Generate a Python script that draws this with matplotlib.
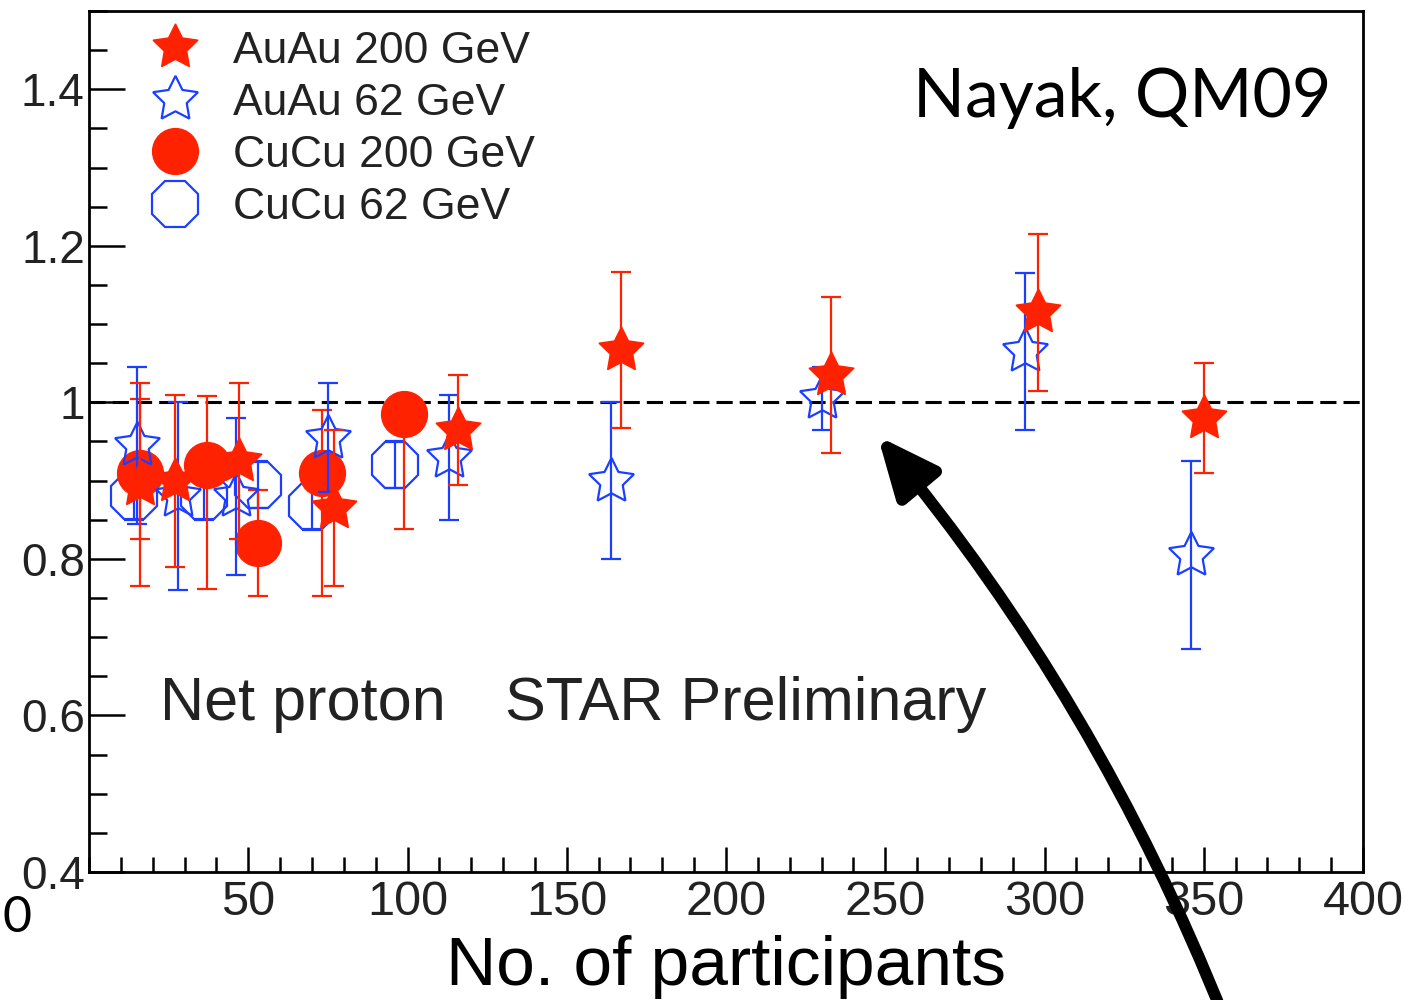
import matplotlib.pyplot as plt
from matplotlib.lines import Line2D
from matplotlib.patches import FancyArrowPatch
from matplotlib.ticker import MultipleLocator, FixedLocator, FuncFormatter

# AuAu 200 GeV (filled stars)
au200_x = [350, 298, 233, 167, 116, 77, 47, 27, 16]
au200_y = [0.98, 1.115, 1.035, 1.067, 0.965, 0.865, 0.925, 0.90, 0.895]
au200_lo = [0.07, 0.10, 0.10, 0.10, 0.07, 0.10, 0.10, 0.11, 0.13]
au200_hi = [0.07, 0.10, 0.10, 0.10, 0.07, 0.10, 0.10, 0.11, 0.13]

# AuAu 62 GeV (open stars)
au62_x = [346, 294, 230, 164, 113, 75, 46, 28, 15]
au62_y = [0.805, 1.065, 1.005, 0.90, 0.93, 0.955, 0.88, 0.88, 0.945]
au62_err = [0.12, 0.10, 0.04, 0.10, 0.08, 0.07, 0.10, 0.12, 0.10]

# CuCu 200 GeV (filled circles)
cu200_x = [99, 73, 53, 37, 16]
cu200_y = [0.985, 0.91, 0.82, 0.92, 0.91]
cu200_lo = [0.147, 0.158, 0.068, 0.158, 0.085]
cu200_hi = [0.02, 0.08, 0.068, 0.088, 0.094]

# CuCu 62 GeV (open circles)
cu62_x = [96, 70, 53, 36, 14]
cu62_y = [0.92, 0.867, 0.895, 0.88, 0.88]
cu62_err = [0.03, 0.03, 0.03, 0.03, 0.03]

labels = ['AuAu 200 GeV', 'AuAu 62 GeV', 'CuCu 200 GeV', 'CuCu 62 GeV']

red = '#ff2200'
blue = '#1c3fff'
txt = '#222222'
star = (5, 1, 0)

W, H = 1405, 1000
fig = plt.figure(figsize=(W / 100, H / 100), dpi=100)
ax = fig.add_axes([89 / W, 1 - 872 / H, (1363 - 89) / W, (872 - 11) / H])

ax.axhline(1.0, color='black', lw=2.2, dashes=(5.3, 2.3), zorder=1)

eb = dict(elinewidth=1.6, capsize=7, capthick=1.6, linestyle='none')
ax.errorbar(cu62_x, cu62_y, yerr=cu62_err, fmt='8', ms=36, mfc='none',
            mec=blue, mew=1.6, ecolor=blue, zorder=2, **eb)
ax.errorbar(cu200_x, cu200_y, yerr=[cu200_lo, cu200_hi], fmt='o', ms=33,
            mfc=red, mec=red, ecolor=red, zorder=3, **eb)
ax.errorbar(au62_x, au62_y, yerr=au62_err, fmt='none', ecolor=blue, zorder=4, **eb)
ax.plot(au62_x, au62_y, linestyle='none', marker=star, ms=34, mfc='none',
        mec=blue, mew=1.6, zorder=4)
ax.errorbar(au200_x, au200_y, yerr=[au200_lo, au200_hi], fmt='none', ecolor=red,
            zorder=5, **eb)
ax.plot(au200_x, au200_y, linestyle='none', marker=star, ms=34, mfc=red,
        mec=red, zorder=5)

ax.set_xlim(0, 400)
ax.set_ylim(0.4, 1.5)
ax.xaxis.set_major_locator(FixedLocator([50, 100, 150, 200, 250, 300, 350, 400]))
ax.xaxis.set_minor_locator(MultipleLocator(10))
ax.yaxis.set_major_locator(MultipleLocator(0.2))
ax.yaxis.set_minor_locator(MultipleLocator(0.05))
ax.yaxis.set_major_formatter(FuncFormatter(lambda v, p: '%g' % round(v, 2)))

for s in ax.spines.values():
    s.set_linewidth(2.0)
ax.tick_params(which='both', direction='in', width=1.8, top=False, right=False,
               colors='black', labelcolor=txt)
ax.tick_params(axis='x', which='major', length=18, pad=6, labelsize=35)
ax.tick_params(axis='x', which='minor', length=11)
ax.tick_params(axis='y', which='major', length=26, pad=3, labelsize=33)
ax.tick_params(axis='y', which='minor', length=13)
for lab in ax.get_xticklabels() + ax.get_yticklabels():
    lab.set_family('Liberation Sans')

handles = [
    Line2D([], [], linestyle='none', marker=star, ms=34, mfc=red, mec=red),
    Line2D([], [], linestyle='none', marker=star, ms=34, mfc='none', mec=blue, mew=1.6),
    Line2D([], [], linestyle='none', marker='o', ms=33, mfc=red, mec=red),
    Line2D([], [], linestyle='none', marker='8', ms=36, mfc='none', mec=blue, mew=1.6),
]
leg = ax.legend(handles, labels, loc='upper left', bbox_to_anchor=(0.050, 0.977),
                frameon=False, borderpad=0, borderaxespad=0, handlelength=1.0,
                handletextpad=0.8, labelspacing=0.25,
                prop={'family': 'Liberation Sans', 'size': 32})
for t in leg.get_texts():
    t.set_color(txt)

ax.text((160 - 89) / 1274, (872 - 720) / 861, 'Net proton', transform=ax.transAxes,
        family='Liberation Sans', size=44, color=txt, ha='left', va='baseline')
ax.text((505 - 89) / 1274, (872 - 720) / 861, 'STAR Preliminary', transform=ax.transAxes,
        family='Liberation Sans', size=44, color=txt, ha='left', va='baseline')

fig.text(1331 / W, 1 - 117 / H, 'Nayak, QM09', family='Lato', size=49,
         color='black', ha='right', va='baseline')
fig.text(726 / W, 1 - 985 / H, 'No. of participants', family='Liberation Sans',
         size=50, color='black', ha='center', va='baseline')
fig.text(2 / W, 1 - 932 / H, '0', family='Lato', size=36, color='black',
         ha='left', va='baseline')

arrow = FancyArrowPatch((1225 / W, -0.02), (876 / W, 1 - 434 / H),
                        transform=fig.transFigure, connectionstyle='arc3,rad=0.08',
                        arrowstyle='-|>,head_length=1.8,head_width=0.8',
                        mutation_scale=20, lw=8.5, color='black', zorder=10)
fig.add_artist(arrow)

fig.savefig('out.png', dpi=100)
